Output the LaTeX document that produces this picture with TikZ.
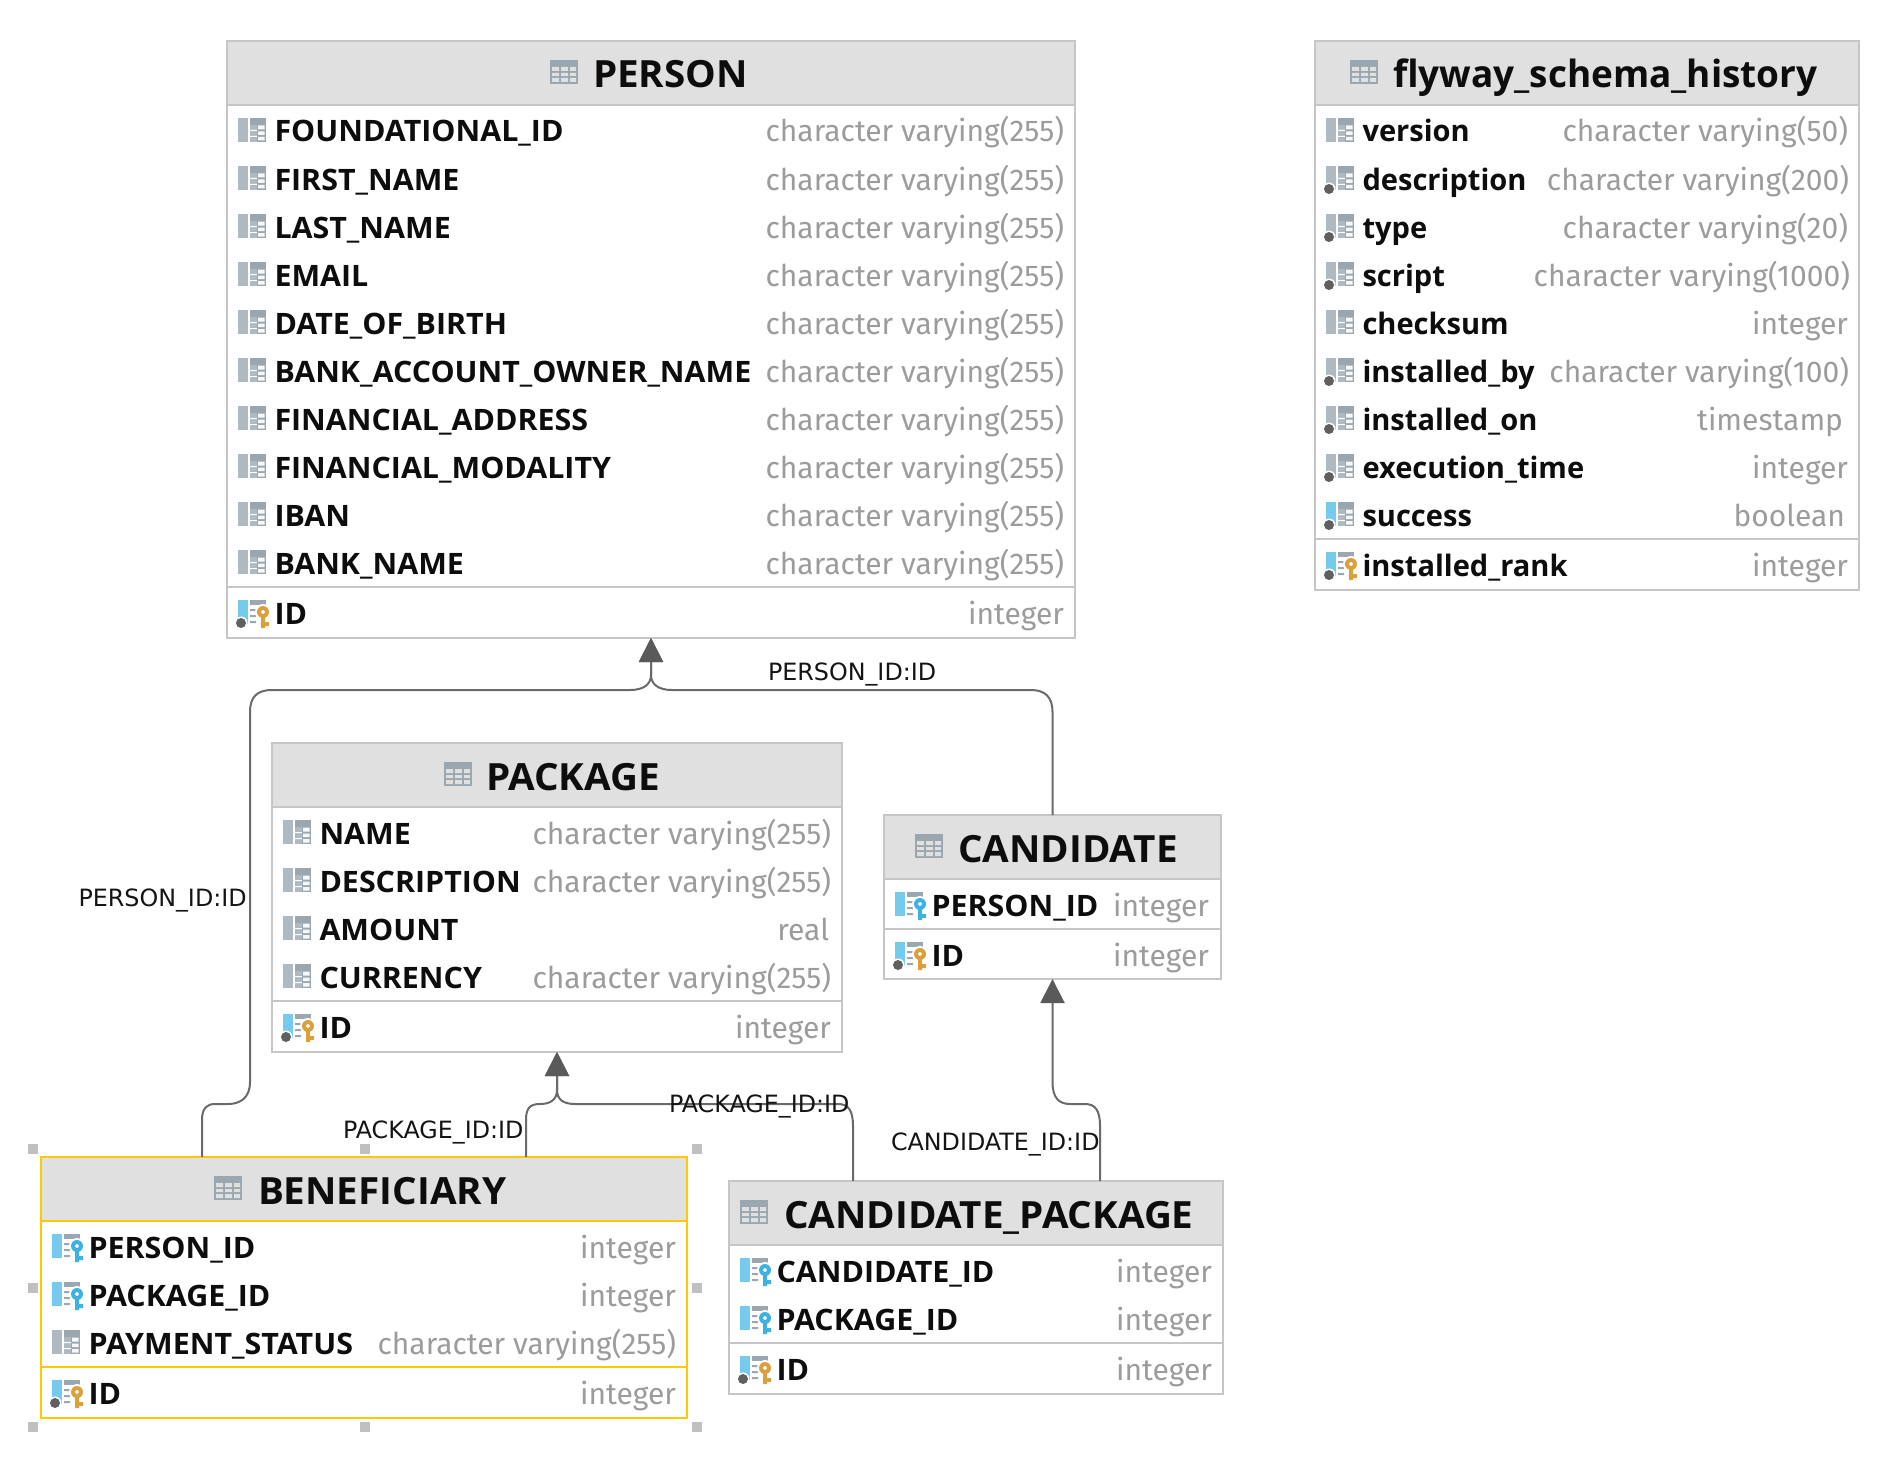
\documentclass[tikz,border=0pt]{standalone}
\usepackage{fontspec}
\setmainfont{Fira Sans}
\newfontfamily\labelfont{DejaVu Sans}
\newfontfamily\capsfont[FakeStretch=1.03]{Open Sans}
\newfontfamily\lowerfont[FakeStretch=0.985]{Open Sans}
\usetikzlibrary{arrows.meta}
\definecolor{tborder}{HTML}{C6C6C6}
\definecolor{tselect}{HTML}{FFC800}
\definecolor{thead}{HTML}{E0E0E0}
\definecolor{typegray}{HTML}{9C9C9C}
\definecolor{icbar}{HTML}{AEB9C1}
\definecolor{icgrid}{HTML}{9AA7B0}
\definecolor{icblue}{HTML}{75CBEC}
\definecolor{keyblue}{HTML}{3CB1E2}
\definecolor{keygold}{HTML}{DBA03C}
\definecolor{icdot}{HTML}{606060}
\definecolor{conn}{HTML}{6A6A6A}
\definecolor{arrowc}{HTML}{5A5A5A}
\definecolor{handle}{HTML}{C0C0C0}
\tikzset{
  tframe/.style={draw=\bcol,fill=white,line width=1.4pt,inner sep=0pt,outer sep=0pt},
  thdr/.style={draw=\bcol,fill=thead,line width=2pt,inner sep=0pt,outer sep=0pt},
  sepline/.style={draw=\bcol,line width=2pt},
  colname/.style={anchor=base west,inner sep=0pt,outer sep=0pt,font=\fontsize{29.5}{30}\namef\bfseries,text=black!95},
  coltype/.style={anchor=base east,inner sep=0pt,outer sep=0pt,font=\fontsize{30}{30}\selectfont,text=typegray},
  ttitle/.style={anchor=base west,inner sep=0pt,outer sep=0pt,font=\fontsize{37.5}{38}\namef\bfseries,text=black!95},
  rellabel/.style={anchor=base west,inner sep=0pt,outer sep=0pt,font=\fontsize{23.8}{24}\selectfont\labelfont,text=black!92},
  relline/.style={draw=conn,line width=2pt,-{Triangle[length=24pt,width=24pt,color=arrowc,fill=arrowc]}},
  handlebox/.style={fill=handle,draw=none,minimum size=10pt,inner sep=0pt,outer sep=0pt},
}
\let\namef\capsfont
% icon parts, origin at (table left, row centre)
\newcommand\icBarG{\fill[icbar] (11,-12) rectangle (21,12);}
\newcommand\icBarB{\fill[icblue] (11,-12) rectangle (21,12);}
\newcommand\icGrid{\fill[icgrid] (23,-12) rectangle (39,12);
  \fill[icbar] (23,-5) rectangle (30,12);
  \fill[white] (23,0) rectangle (30,1) (23,6) rectangle (30,7);
  \fill[white!92!icgrid] (31,-4.5) rectangle (37.5,-0.5) (31,1.5) rectangle (37.5,5) (31,7) rectangle (37.5,10.5);}
\newcommand\icList{\fill[icgrid] (23,-12) rectangle (39,-7);
  \fill[icgrid] (23,-3) rectangle (29,-1) (23,3) rectangle (29,5) (23,9) rectangle (29,11);}
\newcommand\icDot{\fill[white] (14,11) circle (6.5);\fill[icdot] (14,11) circle (5);}
\newcommand\icKey[1]{\fill[white] (36,0) circle (8);\fill[white] (31,0) rectangle (41,17);
  \fill[#1,even odd rule] (36,0) circle (6) (36,0) circle (2);
  \fill[#1] (34,5) rectangle (38,16) (38,10) rectangle (42,14);}
\newcommand\icP{\icBarG\icGrid}
\newcommand\icD{\icBarG\icGrid\icDot}
\newcommand\icS{\icBarB\icGrid\icDot}
\newcommand\icF{\icBarB\icList\icKey{keyblue}}
\newcommand\icK{\icBarB\icList\icDot\icKey{keygold}}
\newcommand\icT{\fill[icgrid] (0,-12) rectangle (28,12);
  \fill[thead] (2,-5) rectangle (9,-1) (11,-5) rectangle (18,-1) (20,-5) rectangle (26,-1)
   (2,1) rectangle (9,4) (11,1) rectangle (18,4) (20,1) rectangle (26,4)
   (2,6) rectangle (9,10) (11,6) rectangle (18,10) (20,6) rectangle (26,10);}
\newcounter{rownum}
% name, x0, y0, x1, y1, icon x, title x, title, border colour
\newcommand\dbtable[9]{%
  \def\tn{#1}\def\xa{#2}\def\xb{#4}\def\bcol{#9}%
  \setcounter{rownum}{0}%
  \node[tframe,minimum width={(#4-#2)*1pt},minimum height={(#5-#3)*1pt}] (#1) at ({(#2+#4)/2},{(#3+#5)/2}) {};
  \node[thdr,minimum width={(#4-#2)*1pt},minimum height=64pt] (#1-head) at ({(#2+#4)/2},{#3+32}) {};
  \begin{scope}[shift={(#6,#3+31)}]\icT\end{scope}
  \node[ttitle] (#1-title) at (#7,#3+47) {#8};
  \pgfmathsetmacro\cy{#3+89}%
}
% icon kind, column name, type, right offset
\newcommand\colrow[4]{%
  \begin{scope}[shift={(\xa,\cy)}]\csname ic#1\endcsname\end{scope}
  \stepcounter{rownum}%
  \node[colname] (\tn-n\arabic{rownum}) at ({\xa+47.5},{\cy+12}) {#2};
  \node[coltype] (\tn-t\arabic{rownum}) at ({\xb-#4},{\cy+12}) {#3};
  \pgfmathsetmacro\cy{\cy+48}%
}
\newcommand\keysep{%
  \draw[sepline] (\xa,\cy-23) -- (\xb,\cy-23);
  \pgfmathsetmacro\cy{\cy+2}%
}
\def\cv{character varying}
\begin{document}
\begin{tikzpicture}[x=1pt,y=-1pt]
\useasboundingbox (0,0) rectangle (1900,1458);

\dbtable{person}{227}{41}{1075}{638}{550}{593}{PERSON}{tborder}
\colrow{P}{FOUNDATIONAL\_ID}{\cv(255)}{11}
\colrow{P}{FIRST\_NAME}{\cv(255)}{11}
\colrow{P}{LAST\_NAME}{\cv(255)}{11}
\colrow{P}{EMAIL}{\cv(255)}{11}
\colrow{P}{DATE\_OF\_BIRTH}{\cv(255)}{11}
\colrow{P}{BANK\_ACCOUNT\_OWNER\_NAME}{\cv(255)}{11}
\colrow{P}{FINANCIAL\_ADDRESS}{\cv(255)}{11}
\colrow{P}{FINANCIAL\_MODALITY}{\cv(255)}{11}
\colrow{P}{IBAN}{\cv(255)}{11}
\colrow{P}{BANK\_NAME}{\cv(255)}{11}
\keysep
\colrow{K}{ID}{integer}{11}

\let\namef\lowerfont
\dbtable{flyway}{1315}{41}{1859}{590}{1350}{1393}{flyway\_schema\_history}{tborder}
\colrow{P}{version}{\cv(50)}{11}
\colrow{D}{description}{\cv(200)}{10}
\colrow{D}{type}{\cv(20)}{11}
\colrow{D}{script}{\cv(1000)}{9}
\colrow{P}{checksum}{integer}{11}
\colrow{D}{installed\_by}{\cv(100)}{10}
\colrow{D}{installed\_on}{timestamp}{16}
\colrow{D}{execution\_time}{integer}{11}
\colrow{S}{success}{boolean}{14}
\keysep
\colrow{K}{installed\_rank}{integer}{11}
\let\namef\capsfont

\dbtable{package}{272}{743}{842}{1052}{444}{486}{PACKAGE}{tborder}
\colrow{P}{NAME}{\cv(255)}{11}
\colrow{P}{DESCRIPTION}{\cv(255)}{11}
\colrow{P}{AMOUNT}{real}{13}
\colrow{P}{CURRENCY}{\cv(255)}{11}
\keysep
\colrow{K}{ID}{integer}{11}

\dbtable{candidate}{884}{815}{1221}{979}{915}{958}{CANDIDATE}{tborder}
\colrow{F}{PERSON\_ID}{integer}{12}
\keysep
\colrow{K}{ID}{integer}{12}

\dbtable{beneficiary}{41}{1157}{687}{1418}{214}{258}{BENEFICIARY}{tselect}
\colrow{F}{PERSON\_ID}{integer}{11}
\colrow{F}{PACKAGE\_ID}{integer}{11}
\colrow{P}{PAYMENT\_STATUS}{\cv(255)}{11}
\keysep
\colrow{K}{ID}{integer}{11}

\dbtable{candpkg}{729}{1181}{1223}{1394}{740}{784}{CANDIDATE\_PACKAGE}{tborder}
\colrow{F}{CANDIDATE\_ID}{integer}{11}
\colrow{F}{PACKAGE\_ID}{integer}{11}
\keysep
\colrow{K}{ID}{integer}{11}

% selection handles
\node[handlebox] (h1) at (33,1149) {};
\node[handlebox] (h2) at (365,1149) {};
\node[handlebox] (h3) at (697,1149) {};
\node[handlebox] (h4) at (33,1288) {};
\node[handlebox] (h5) at (697,1288) {};
\node[handlebox] (h6) at (33,1427) {};
\node[handlebox] (h7) at (365,1427) {};
\node[handlebox] (h8) at (697,1427) {};

% relations
\draw[relline] ([xshift=-162pt]beneficiary.north) -- (202,1120)
  .. controls (202,1108) and (207,1104) .. (215,1104) -- (228,1104)
  .. controls (240,1104) and (250,1098) .. (250,1082) -- (250,712)
  .. controls (250,697) and (257,690) .. (272,690) -- (630,690)
  .. controls (644,690) and (651,684) .. (651,675) -- (person.south);
\draw[relline] (candidate.north) -- (1052.5,712)
  .. controls (1052.5,697) and (1045,690) .. (1031,690) -- (672,690)
  .. controls (658,690) and (651,684) .. (651,675) -- (person.south);
\draw[relline] ([xshift=162pt]beneficiary.north) -- (526,1120)
  .. controls (526,1108) and (530,1104) .. (540,1104)
  .. controls (550,1104) and (557,1100) .. (557,1090) -- (package.south);
\draw[relline] ([xshift=-123pt]candpkg.north) -- (853,1126)
  .. controls (853,1110) and (848,1104) .. (838,1104) -- (575,1104)
  .. controls (564,1104) and (557,1100) .. (557,1090) -- (package.south);
\draw[relline] ([xshift=124pt]candpkg.north) -- (1100,1126)
  .. controls (1100,1110) and (1095,1104) .. (1085,1104) -- (1070,1104)
  .. controls (1059,1104) and (1052.5,1098) .. (1052.5,1082) -- (candidate.south);

% labels
\node[rellabel] (l1) at (768,680) {PERSON\_ID:ID};
\node[rellabel] (l2) at (78.5,906) {PERSON\_ID:ID};
\node[rellabel] (l3) at (343,1138) {PACKAGE\_ID:ID};
\node[rellabel] (l4) at (669,1112) {PACKAGE\_ID:ID};
\node[rellabel] (l5) at (891,1150) {CANDIDATE\_ID:ID};
\end{tikzpicture}
\end{document}
